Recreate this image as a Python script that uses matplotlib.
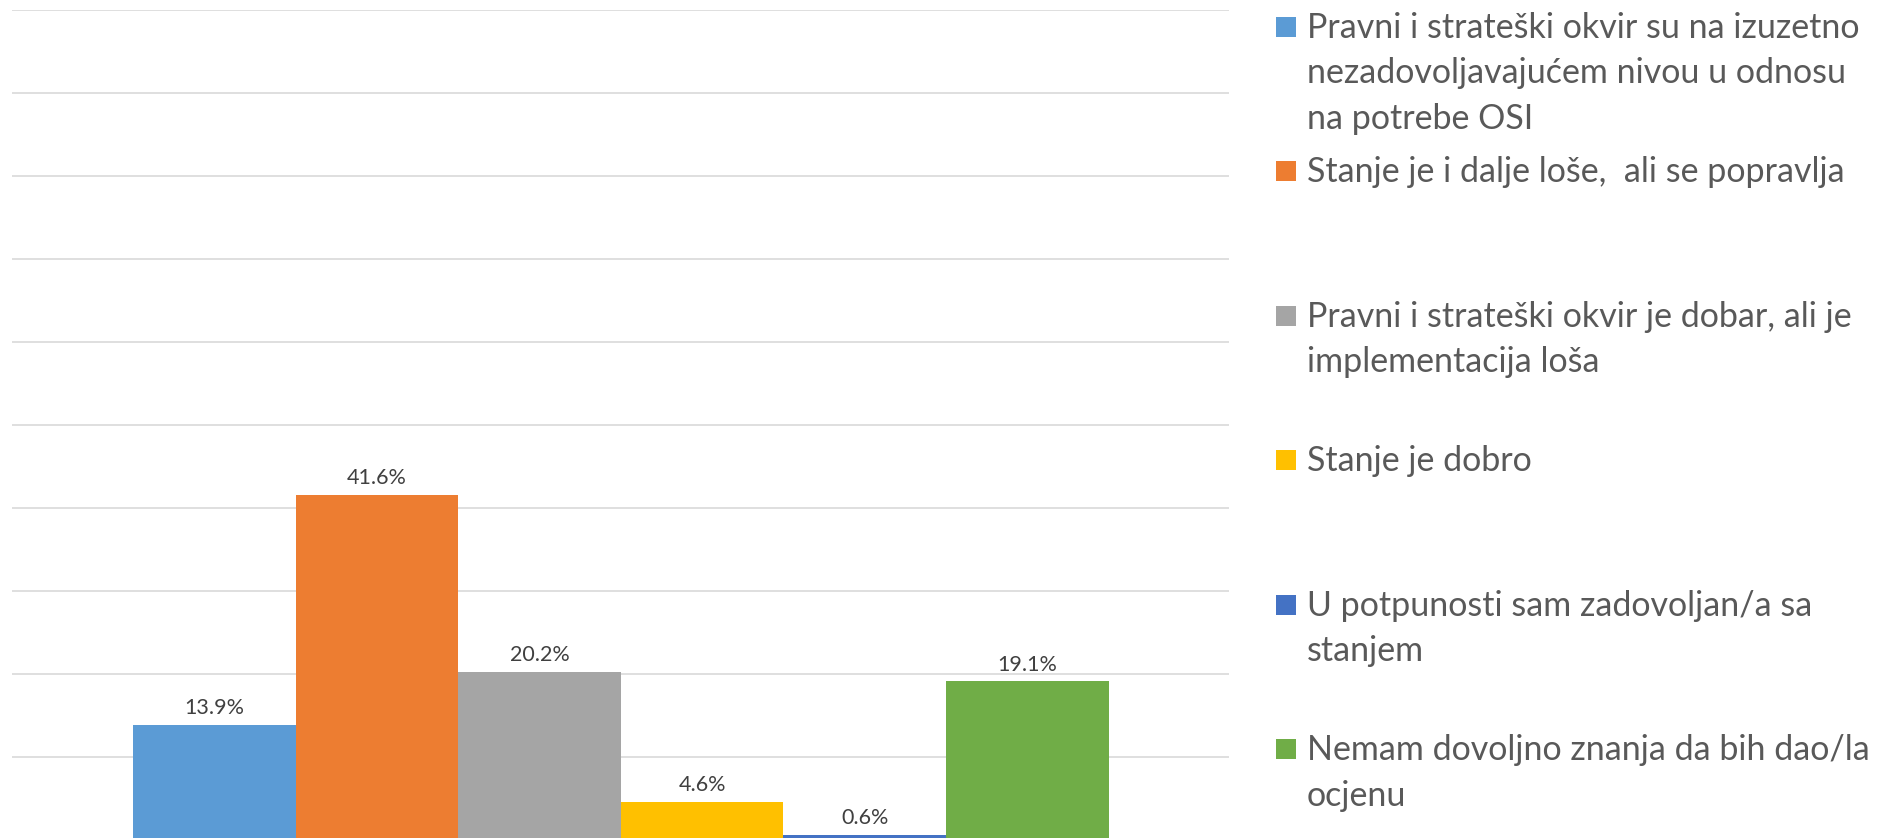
import matplotlib
matplotlib.use("Agg")
import matplotlib.pyplot as plt
from matplotlib.patches import Rectangle

# Survey answers (share of respondents, %)
categories = [
    "Pravni i strateški okvir su na izuzetno\nnezadovoljavajućem nivou u odnosu\nna potrebe OSI",
    "Stanje je i dalje loše,  ali se popravlja",
    "Pravni i strateški okvir je dobar, ali je\nimplementacija loša",
    "Stanje je dobro",
    "U potpunosti sam zadovoljan/a sa\nstanjem",
    "Nemam dovoljno znanja da bih dao/la\nocjenu",
]
values = [13.9, 41.6, 20.2, 4.6, 0.6, 19.1]
colors = ["#5B9BD5", "#ED7D31", "#A5A5A5", "#FFC000", "#4472C4", "#70AD47"]

W, H = 1903, 838
DPI = 100
FONT = "Lato"

fig = plt.figure(figsize=(W / DPI, H / DPI), dpi=DPI)
fig.patch.set_facecolor("white")

# plot area in pixel terms (bottom edge just below the canvas)
left_px, right_px, top_px, bottom_px = 12, 1229, 10, 840
ax = fig.add_axes([left_px / W, (H - bottom_px) / H,
                   (right_px - left_px) / W, (bottom_px - top_px) / H])

for i, (lab, v, c) in enumerate(zip(categories, values, colors)):
    ax.bar(i, v, width=1.0, color=c, label=lab, zorder=3)
    ax.annotate(f"{v:.1f}%", xy=(i, v), xytext=(0, 5), textcoords="offset points",
                ha="center", va="bottom", fontsize=15.5, color="#404040",
                family=FONT, zorder=4)

ax.set_ylim(0, 100)
ax.set_xlim(-1.245, 6.24)
ax.set_yticks(range(0, 101, 10))
ax.yaxis.grid(True, color="#D9D9D9", linewidth=1.2, zorder=0)
ax.tick_params(left=False, bottom=False, labelleft=False, labelbottom=False)
for s in ax.spines.values():
    s.set_visible(False)

# legend laid out in the right-hand column
first_line_px = 26.7
entry_step_px = 144.5
line_step_px = 45.5
sq = 20
sq_x = 1276
text_x = 1307
for i, (lab, c) in enumerate(zip(categories, colors)):
    yc = first_line_px + entry_step_px * i
    fig.add_artist(Rectangle((sq_x / W, (H - yc - sq / 2) / H), sq / W, sq / H,
                             transform=fig.transFigure, facecolor=c,
                             edgecolor="none"))
    for j, line in enumerate(lab.split("\n")):
        yb = yc + 11 + line_step_px * j
        fig.text(text_x / W, (H - yb) / H, line, ha="left", va="baseline",
                 fontsize=24.5, color="#595959", family=FONT)

fig.savefig("out.png", dpi=DPI, facecolor="white")
